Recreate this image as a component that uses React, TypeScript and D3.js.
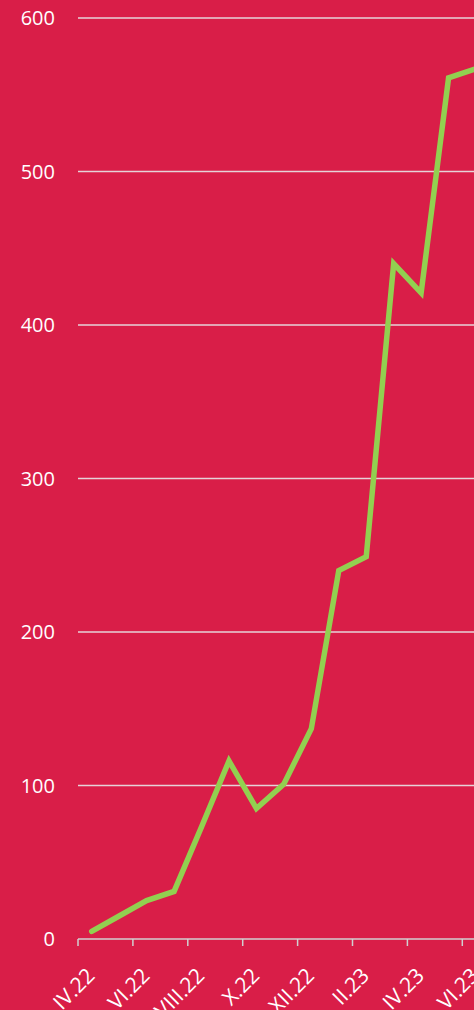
import React from "react";
import * as d3 from "d3";

const months = ["IV.22","V.22","VI.22","VII.22","VIII.22","IX.22","X.22","XI.22","XII.22","I.23","II.23","III.23","IV.23","V.23","VI.23"];
const values = [5, 15, 25, 31, 73, 116, 85, 101, 137, 240, 249, 440, 421, 561, 567];
const tickLabels = ["IV.22","VI.22","VIII.22","X.22","XII.22","II.23","IV.23","VI.23"];
const yTicks = [0, 100, 200, 300, 400, 500, 600];

const W = 474, H = 1010;
const BG = "#D91E48";
const LINE = "#92D050";
const GRID = "#E6D3D8";

export default function App() {
  const x = d3.scaleLinear().domain([0, months.length]).range([78, 78 + 27.45 * months.length]);
  const y = d3.scaleLinear().domain([0, 600]).range([939, 18]);
  const line = d3.line<number>().x((_, i) => x(i + 0.5)).y(d => y(d));
  const font = "'Open Sans', sans-serif";
  return (
    <svg width={W} height={H} style={{ position: "absolute", left: 0, top: 0, background: BG }}>
      <rect width={W} height={H} fill={BG} />
      {yTicks.map(t => (
        <g key={t}>
          {t > 0 && <line x1={78} x2={W + 20} y1={y(t)} y2={y(t)} stroke={GRID} strokeWidth={1.5} />}
          <text x={55} y={y(t)} dy="0.35em" textAnchor="end" fill="#fff" fontSize={20} fontFamily={font}>{t}</text>
        </g>
      ))}
      <line x1={78} x2={W + 20} y1={y(0)} y2={y(0)} stroke="#D0D0D0" strokeWidth={1.5} />
      {tickLabels.map((_, k) => (
        <line key={k} x1={x(k * 2)} x2={x(k * 2)} y1={y(0)} y2={y(0) + 7} stroke="#D0D0D0" strokeWidth={1.5} />
      ))}
      {tickLabels.map((l, k) => (
        <text key={l} transform={`translate(${x(k * 2) + 18},977) rotate(-45)`} textAnchor="end" fill="#fff" fontSize={21} fontFamily={font}>{l}</text>
      ))}
      <path d={line(values) || ""} fill="none" stroke={LINE} strokeWidth={5.5} strokeLinejoin="miter" strokeLinecap="round" />
    </svg>
  );
}
